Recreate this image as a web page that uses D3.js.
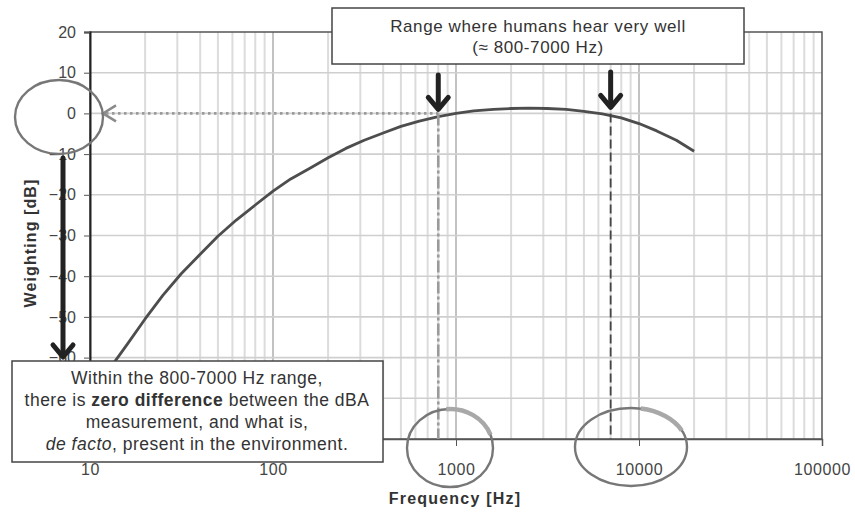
<!DOCTYPE html>
<html>
<head>
<meta charset="utf-8">
<script src="https://cdn.jsdelivr.net/npm/d3@7"></script>
<style>
  html, body { margin: 0; padding: 0; background: #fff; }
  svg { display: block; font-family: Arial, "Liberation Sans", sans-serif; }
</style>
</head>
<body>
<svg id="chart" width="855" height="512"></svg>
<script>
// A-weighting curve, one-third-octave band centres (Hz) and weighting (dB)
const frequencies = [10, 12.5, 16, 20, 25, 31.5, 40, 50, 63, 80, 100, 125, 160, 200, 250, 315, 400, 500, 630, 800,
  1000, 1250, 1600, 2000, 2500, 3150, 4000, 5000, 6300, 8000, 10000, 12500, 16000, 20000];
const weightings = [-70.4, -63.4, -56.7, -50.5, -44.7, -39.4, -34.6, -30.2, -26.2, -22.5, -19.1, -16.1, -13.4, -10.9, -8.6, -6.6, -4.8, -3.2, -1.9, -0.8,
  0, 0.6, 1.0, 1.2, 1.3, 1.2, 1.0, 0.5, -0.1, -1.1, -2.5, -4.3, -6.6, -9.3];

// Axis ticks (the lowest labels sit under the note box, so only lines are drawn there)
const xTicks = [10, 100, 1000, 10000, 100000];
const xTickLabels = ["10", "100", "1000", "10000", "100000"];
const yTicks = [20, 10, 0, -10, -20, -30, -40, -50, -60, -70, -80];
const yLabelled = [20, 10, 0, -10, -20, -30, -40, -50, -60];

// Hearing range markers
const rangeLow = 800;
const rangeHigh = 7000;
const referenceLevel = 0;

const topNote = ["Range where humans hear very well", "(\u2248 800-7000 Hz)"];

const svg = d3.select("#chart");
const plot = { left: 90, right: 822, top: 32, bottom: 439 };

const x = d3.scaleLog().domain([10, 100000]).range([plot.left, plot.right]);
const y = d3.scaleLinear().domain([-80, 20]).range([plot.bottom, plot.top]);

// Minor vertical grid (2..9 within each decade)
const minor = [];
for (let d = 10; d < 100000; d *= 10) for (let k = 2; k <= 9; k++) minor.push(d * k);
svg.append("g").selectAll("line").data(minor).join("line")
  .attr("x1", d => x(d)).attr("x2", d => x(d))
  .attr("y1", plot.top).attr("y2", plot.bottom)
  .attr("stroke", "#dcdcdc").attr("stroke-width", 2);

// Major vertical grid
svg.append("g").selectAll("line").data(xTicks.slice(1, -1)).join("line")
  .attr("x1", d => x(d)).attr("x2", d => x(d))
  .attr("y1", plot.top).attr("y2", plot.bottom)
  .attr("stroke", "#9a9a9a").attr("stroke-width", 1.2);

// Horizontal grid
svg.append("g").selectAll("line").data(yTicks.filter(v => v < 20 && v > -80)).join("line")
  .attr("x1", plot.left).attr("x2", plot.right)
  .attr("y1", d => y(d)).attr("y2", d => y(d))
  .attr("stroke", "#cfcfcf").attr("stroke-width", 1.6);

// Plot border
svg.append("rect")
  .attr("x", plot.left).attr("y", plot.top)
  .attr("width", plot.right - plot.left).attr("height", plot.bottom - plot.top)
  .attr("fill", "none").attr("stroke", "#555").attr("stroke-width", 1.5);

// Axes
const yAxis = d3.axisLeft(y).tickValues(yTicks).tickSize(6).tickPadding(8)
  .tickFormat(d => yLabelled.includes(d) ? d3.format("d")(d) : "");
const gy = svg.append("g").attr("transform", `translate(${plot.left},0)`).call(yAxis);
gy.select(".domain").attr("stroke", "#222").attr("stroke-width", 2);
gy.selectAll(".tick line").attr("stroke", "#555");
gy.selectAll(".tick text").attr("font-size", 16).attr("fill", "#444")
  .attr("font-family", "Arial, 'Liberation Sans', sans-serif");

const xAxis = d3.axisBottom(x).tickValues(xTicks).tickSize(7).tickPadding(18)
  .tickFormat((d, i) => xTickLabels[i]);
const gx = svg.append("g").attr("transform", `translate(0,${plot.bottom})`).call(xAxis);
gx.select(".domain").attr("stroke", "#555").attr("stroke-width", 1.5);
gx.selectAll(".tick line").attr("stroke", "#555");
gx.selectAll(".tick text").attr("font-size", 16).attr("fill", "#444").attr("letter-spacing", 0.6)
  .attr("font-family", "Arial, 'Liberation Sans', sans-serif");

// Axis titles
svg.append("text")
  .attr("x", 455).attr("y", 504)
  .attr("text-anchor", "middle").attr("font-size", 16).attr("font-weight", "bold")
  .attr("letter-spacing", 1.2).attr("fill", "#333")
  .text("Frequency [Hz]");
svg.append("text")
  .attr("transform", "translate(36,243) rotate(-90)")
  .attr("text-anchor", "middle").attr("font-size", 16).attr("font-weight", "bold")
  .attr("letter-spacing", 1.1).attr("fill", "#333")
  .text("Weighting [dB]");

// Weighting curve
const line = d3.line().x((d, i) => x(frequencies[i])).y(d => y(d));
svg.append("path").datum(weightings)
  .attr("d", line).attr("fill", "none")
  .attr("stroke", "#4d4d4d").attr("stroke-width", 2.8).attr("stroke-linejoin", "round");

// Dotted reference line at 0 dB with open arrowhead
const y0 = y(referenceLevel);
svg.append("line")
  .attr("x1", 106).attr("x2", x(rangeLow)).attr("y1", y0).attr("y2", y0)
  .attr("stroke", "#9a9a9a").attr("stroke-width", 2.6).attr("stroke-dasharray", "2.5,3.5");
svg.append("path")
  .attr("d", `M116,${y0 - 8} L103,${y0} L116,${y0 + 8}`)
  .attr("fill", "none").attr("stroke", "#8a8a8a").attr("stroke-width", 2.5);

// Vertical markers at the range limits
svg.append("line")
  .attr("x1", x(rangeLow)).attr("x2", x(rangeLow)).attr("y1", y0).attr("y2", plot.bottom)
  .attr("stroke", "#9a9a9a").attr("stroke-width", 2.6).attr("stroke-dasharray", "12,3,3,3");
svg.append("line")
  .attr("x1", x(rangeHigh)).attr("x2", x(rangeHigh)).attr("y1", y0).attr("y2", plot.bottom)
  .attr("stroke", "#444").attr("stroke-width", 1.8).attr("stroke-dasharray", "9,4");

// Bold down arrows
function downArrow(cx, y1, y2, head) {
  const g = svg.append("g").attr("fill", "none").attr("stroke", "#222")
    .attr("stroke-width", 5).attr("stroke-linecap", "round").attr("stroke-linejoin", "round");
  g.append("line").attr("x1", cx).attr("x2", cx).attr("y1", y1).attr("y2", y2 - 2);
  g.append("path").attr("d", `M${cx - head},${y2 - head * 1.2} L${cx},${y2} L${cx + head},${y2 - head * 1.2}`);
}
downArrow(x(rangeLow), 75, y0 - 4, 10);
downArrow(x(rangeHigh), 72, y0 - 6, 10);
downArrow(63, 158, 357, 10);

// Highlight ellipses
const ellipses = [
  { cx: 59, cy: 117, rx: 44, ry: 37 },
  { cx: 450, cy: 448, rx: 43, ry: 39, hl: [-95, -20] },
  { cx: 631, cy: 447, rx: 56, ry: 39, hl: [-80, -25] }
];
svg.append("g").selectAll("ellipse").data(ellipses).join("ellipse")
  .attr("cx", d => d.cx).attr("cy", d => d.cy).attr("rx", d => d.rx).attr("ry", d => d.ry)
  .attr("fill", "none").attr("stroke", "#777").attr("stroke-width", 2.4);
svg.append("g").selectAll("path").data(ellipses.filter(d => d.hl)).join("path")
  .attr("d", d => {
    const p = a => [d.cx + d.rx * Math.cos(a * Math.PI / 180), d.cy + d.ry * Math.sin(a * Math.PI / 180)];
    const [x1, y1] = p(d.hl[0]), [x2, y2] = p(d.hl[1]);
    return `M${x1},${y1} A${d.rx},${d.ry} 0 0 1 ${x2},${y2}`;
  })
  .attr("fill", "none").attr("stroke", "#a8a8a8").attr("stroke-width", 4.5);

// Top note box
svg.append("rect").attr("x", 332).attr("y", 8).attr("width", 412).attr("height", 56)
  .attr("fill", "#fff").attr("stroke", "#444").attr("stroke-width", 1.5);
svg.append("g").selectAll("text").data(topNote).join("text")
  .attr("x", 538).attr("y", (d, i) => 32 + i * 21)
  .attr("text-anchor", "middle").attr("font-size", 17).attr("letter-spacing", 0.6).attr("fill", "#333")
  .text(d => d);

// Bottom note box
svg.append("rect").attr("x", 12).attr("y", 361).attr("width", 371).attr("height", 101)
  .attr("fill", "#fff").attr("stroke", "#444").attr("stroke-width", 1.5);
const note = svg.append("text").attr("text-anchor", "middle").attr("font-size", 17.5)
  .attr("letter-spacing", 0.5).attr("fill", "#333");
note.append("tspan").attr("x", 197).attr("y", 384).text("Within the 800-7000 Hz range,");
const l2 = note.append("tspan").attr("x", 197).attr("y", 406);
l2.append("tspan").text("there is ");
l2.append("tspan").attr("font-weight", "bold").text("zero difference");
l2.append("tspan").text(" between the dBA");
note.append("tspan").attr("x", 197).attr("y", 428).text("measurement, and what is,");
const l4 = note.append("tspan").attr("x", 197).attr("y", 450);
l4.append("tspan").attr("font-style", "italic").text("de facto");
l4.append("tspan").text(", present in the environment.");
</script>
</body>
</html>
